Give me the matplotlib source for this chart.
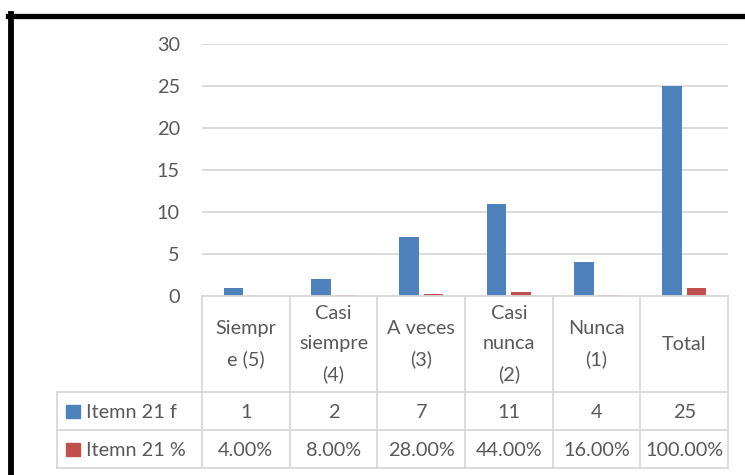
import matplotlib
matplotlib.use("Agg")
import matplotlib.pyplot as plt
from matplotlib.lines import Line2D
from matplotlib.patches import Rectangle

plt.rcParams['font.family'] = ['Lato', 'DejaVu Sans']

categories = ["Siempr\ne (5)", "Casi\nsiempre\n(4)", "A veces\n(3)", "Casi\nnunca\n(2)", "Nunca\n(1)", "Total"]
series_names = ["Itemn 21 f", "Itemn 21 %"]
freq = [1, 2, 7, 11, 4, 25]
pct = [0.04, 0.08, 0.28, 0.44, 0.16, 1.00]
pct_labels = ["4.00%", "8.00%", "28.00%", "44.00%", "16.00%", "100.00%"]
yticks = [0, 5, 10, 15, 20, 25, 30]

BLUE = "#4F81BD"
RED = "#C0504D"
GRID = "#D9D9D9"
TXT = "#595959"
FS = 14.3

W, H = 745, 475
fig = plt.figure(figsize=(W / 100, H / 100), dpi=100)
fig.patch.set_facecolor("white")

def fx(px):
    return px / W

def fy(py):
    return 1 - py / H

# plot area in pixel coordinates
px_left, px_right = 202, 728
py_top, py_zero = 44, 296
ax = fig.add_axes([fx(px_left), fy(py_zero), fx(px_right - px_left), (py_zero - py_top) / H])
n = len(categories)
xs = list(range(n))
bw = 0.225
off = 0.14
ax.bar([x - off for x in xs], freq, width=bw, color=BLUE, zorder=3)
ax.bar([x + off for x in xs], pct, width=bw, color=RED, zorder=3)
ax.set_xlim(-0.5, n - 0.5)
ax.set_ylim(0, 30)
ax.set_yticks(yticks)
ax.set_yticklabels([str(t) for t in yticks], fontsize=FS, color=TXT)
ax.tick_params(axis='y', length=0, pad=16)
ax.set_xticks([])
for s in ax.spines.values():
    s.set_visible(False)
ax.yaxis.grid(True, color=GRID, linewidth=1.3, zorder=0)
ax.set_axisbelow(True)

# data table under the plot, sharing the category scale
py_tab_bottom = 468
row_edges = [0, 96, 134, 172]  # pixel offsets from the zero line
tax = fig.add_axes([fx(px_left), fy(py_tab_bottom), fx(px_right - px_left), (py_tab_bottom - py_zero) / H])
tax.set_xlim(-0.5, n - 0.5)
tax.set_ylim(row_edges[-1], 0)
tax.axis("off")
label_left = -0.5 - (px_left - 57) / ((px_right - px_left) / n)

lk = dict(color=GRID, linewidth=1.3, clip_on=False)
# horizontal lines
tax.plot([-0.5, n - 0.5], [row_edges[0]] * 2, **lk)
for r in row_edges[1:]:
    tax.plot([label_left, n - 0.5], [r, r], **lk)
# vertical lines
for i in range(n + 1):
    tax.plot([i - 0.5, i - 0.5], [row_edges[0], row_edges[-1]], **lk)
tax.plot([label_left, label_left], [row_edges[1], row_edges[-1]], **lk)

for i, c in enumerate(categories):
    tax.text(i, (row_edges[0] + row_edges[1]) / 2, c, ha="center", va="center",
             fontsize=FS, color=TXT, linespacing=1.9, clip_on=False)
    tax.text(i, (row_edges[1] + row_edges[2]) / 2 + 1, str(freq[i]), ha="center", va="center",
             fontsize=FS, color=TXT)
    tax.text(i, (row_edges[2] + row_edges[3]) / 2 + 1, pct_labels[i], ha="center", va="center",
             fontsize=FS, color=TXT)

# legend keys in the label column
unit = (px_right - px_left) / n
for k, (name, col) in enumerate(zip(series_names, [BLUE, RED])):
    yc = (row_edges[k + 1] + row_edges[k + 2]) / 2
    x0 = label_left + 9 / unit
    tax.add_patch(Rectangle((x0, yc - 6), 14 / unit, 13, color=col, clip_on=False))
    tax.text(x0 + 20 / unit, yc + 1, name, ha="left", va="center", fontsize=FS, color=TXT)

# chart frame
fig.add_artist(Line2D([fx(8), 1], [fy(15.5), fy(15.5)], color="black", linewidth=3.8))
fig.add_artist(Line2D([fx(11), fx(11)], [fy(13.5), 0], color="black", linewidth=4.2))

fig.savefig("out.png", dpi=100, facecolor="white")
